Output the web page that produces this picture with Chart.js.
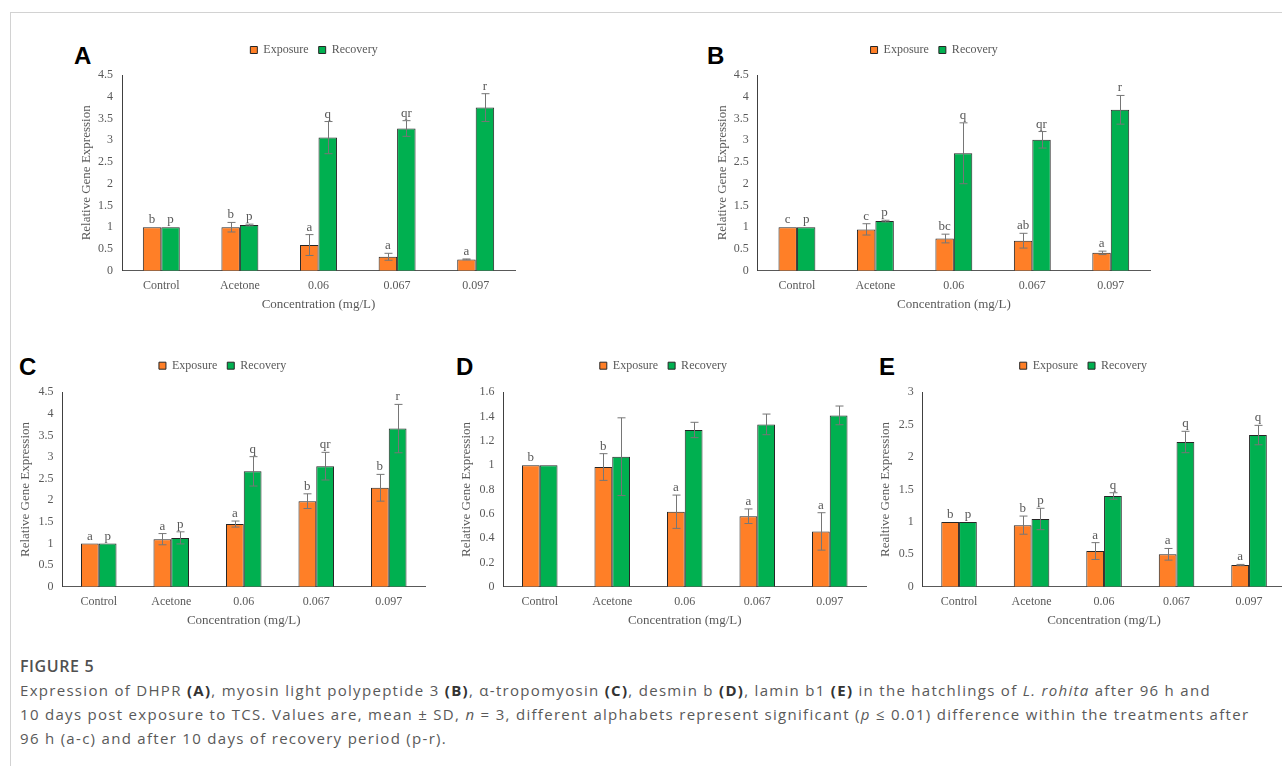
<!doctype html>
<html lang="en">
<head>
<meta charset="utf-8">
<title>Figure 5</title>
<script src="https://cdn.jsdelivr.net/npm/chart.js@4.4.1/dist/chart.umd.min.js"></script>
<style>
  html, body { margin: 0; padding: 0; width: 1282px; height: 766px; overflow: hidden; background: #fff; }
  #frame { position: absolute; left: 10px; top: 12px; width: 1280px; height: 760px;
           border-top: 1px solid #d2d2d2; border-left: 1px solid #d2d2d2; }
  canvas { position: absolute; }
  .tag { position: absolute; font: bold 24px 'Liberation Sans', Arial, sans-serif; line-height: 24px; color: #000; }
  #caption { position: absolute; left: 20px; top: 654px; font: 15px 'Open Sans', sans-serif;
             line-height: 24px; color: #595959; white-space: nowrap; letter-spacing: 1.3px; }
  #caption .head { font-size: 16px; font-weight: 600; color: #505050; letter-spacing: 0.6px; }
  #caption b { color: #333; }
</style>
</head>
<body>
<div id="frame"></div>

<div class="tag" style="left:74px;top:44px">A</div>
<div class="tag" style="left:707px;top:44px">B</div>
<div class="tag" style="left:19px;top:355px">C</div>
<div class="tag" style="left:456px;top:355px">D</div>
<div class="tag" style="left:879px;top:355px">E</div>

<canvas id="chartA" width="520" height="300" style="left:60px;top:30px"></canvas>
<canvas id="chartB" width="480" height="300" style="left:700px;top:30px"></canvas>
<canvas id="chartC" width="430" height="300" style="left:12px;top:345px"></canvas>
<canvas id="chartD" width="430" height="300" style="left:450px;top:345px"></canvas>
<canvas id="chartE" width="430" height="300" style="left:870px;top:345px"></canvas>

<div id="caption">
  <div class="head">FIGURE 5</div>
  <div>Expression of DHPR <b>(A)</b>, myosin light polypeptide 3 <b>(B)</b>, α-tropomyosin <b>(C)</b>, desmin b <b>(D)</b>, lamin b1 <b>(E)</b> in the hatchlings of <i>L. rohita</i> after 96 h and</div>
  <div>10 days post exposure to TCS. Values are, mean ± SD, <i>n</i> = 3, different alphabets represent significant (<i>p</i> ≤ 0.01) difference within the treatments after</div>
  <div>96 h (a-c) and after 10 days of recovery period (p-r).</div>
</div>

<script>
const categories = ['Control', 'Acetone', '0.06', '0.067', '0.097'];
const seriesNames = ['Exposure', 'Recovery'];
const xTitle = 'Concentration (mg/L)';

// A - DHPR
const exposureA = [1, 1.0, 0.59, 0.32, 0.26];
const exposureSdA = [0, 0.11, 0.24, 0.08, 0.01];
const recoveryA = [1, 1.05, 3.06, 3.27, 3.75];
const recoverySdA = [0, 0.02, 0.37, 0.18, 0.32];
const exposureLettersA = ['b', 'b', 'a', 'a', 'a'];
const recoveryLettersA = ['p', 'p', 'q', 'qr', 'r'];

// B - myosin light polypeptide 3
const exposureB = [1, 0.95, 0.74, 0.69, 0.41];
const exposureSdB = [0, 0.13, 0.1, 0.17, 0.04];
const recoveryB = [1, 1.14, 2.70, 3.01, 3.70];
const recoverySdB = [0, 0.02, 0.70, 0.19, 0.33];
const exposureLettersB = ['c', 'c', 'bc', 'ab', 'a'];
const recoveryLettersB = ['p', 'p', 'q', 'qr', 'r'];

// C - alpha-tropomyosin
const exposureC = [1, 1.10, 1.45, 1.98, 2.29];
const exposureSdC = [0, 0.13, 0.07, 0.17, 0.31];
const recoveryC = [1, 1.13, 2.67, 2.79, 3.66];
const recoverySdC = [0, 0.14, 0.34, 0.32, 0.56];
const exposureLettersC = ['a', 'a', 'a', 'b', 'b'];
const recoveryLettersC = ['p', 'p', 'q', 'qr', 'r'];

// D - desmin b
const exposureD = [1, 0.985, 0.617, 0.58, 0.455];
const exposureSdD = [0, 0.11, 0.137, 0.06, 0.154];
const recoveryD = [1, 1.07, 1.29, 1.336, 1.41];
const recoverySdD = [0, 0.32, 0.063, 0.085, 0.077];
const exposureLettersD = ['b', 'b', 'a', 'a', 'a'];
const recoveryLettersD = ['', '', '', '', ''];

// E - lamin b1
const exposureE = [1, 0.95, 0.55, 0.50, 0.334];
const exposureSdE = [0, 0.14, 0.13, 0.09, 0.01];
const recoveryE = [1, 1.045, 1.40, 2.233, 2.34];
const recoverySdE = [0, 0.165, 0.05, 0.165, 0.15];
const exposureLettersE = ['b', 'b', 'a', 'a', 'a'];
const recoveryLettersE = ['p', 'p', 'q', 'q', 'q'];

const yTicksHalf = ['0', '0.5', '1', '1.5', '2', '2.5', '3', '3.5', '4', '4.5'];
const yTicksD = ['0', '0.2', '0.4', '0.6', '0.8', '1', '1.2', '1.4', '1.6'];
const yTicksE = ['0', '0.5', '1', '1.5', '2', '2.5', '3'];

const SERIF = "'Liberation Serif', 'Times New Roman', serif";
const GREY = '#595959';

// draws +/- SD whiskers and the significance letters above each bar
const errorBars = {
  id: 'errorBars',
  afterDatasetsDraw(chart) {
    const { ctx } = chart;
    const y = chart.scales.y;
    ctx.save();
    chart.data.datasets.forEach((ds, di) => {
      chart.getDatasetMeta(di).data.forEach((bar, i) => {
        const v = ds.data[i], sd = ds.sd[i];
        let top = bar.y;
        if (sd > 0) {
          const hi = y.getPixelForValue(v + sd), lo = y.getPixelForValue(v - sd);
          const x = Math.round(bar.x) + 0.5;
          ctx.strokeStyle = '#767676';
          ctx.lineWidth = 1;
          ctx.beginPath();
          ctx.moveTo(x, hi); ctx.lineTo(x, lo);
          ctx.moveTo(x - 4, hi); ctx.lineTo(x + 4, hi);
          ctx.moveTo(x - 4, lo); ctx.lineTo(x + 4, lo);
          ctx.stroke();
          top = hi;
        }
        const letter = ds.letters[i];
        if (letter) {
          ctx.fillStyle = GREY;
          ctx.font = '13px ' + SERIF;
          ctx.textAlign = 'center';
          ctx.textBaseline = 'alphabetic';
          ctx.fillText(letter, bar.x, top - 4);
        }
      });
    });
    ctx.restore();
  }
};

function panel(id, d, g) {
  new Chart(document.getElementById(id), {
    type: 'bar',
    data: {
      labels: categories,
      datasets: [
        { label: seriesNames[0], data: d.exp, sd: d.expSd, letters: d.expL,
          backgroundColor: '#FF7F27', borderColor: '#262626', borderWidth: 1 },
        { label: seriesNames[1], data: d.rec, sd: d.recSd, letters: d.recL,
          backgroundColor: '#00B050', borderColor: '#262626', borderWidth: 1 }
      ]
    },
    options: {
      responsive: false,
      animation: false,
      devicePixelRatio: 1,
      layout: { padding: { left: g.pl, right: g.pr, top: g.pt, bottom: g.pb } },
      datasets: { bar: { barPercentage: 1, categoryPercentage: g.cat } },
      plugins: {
        tooltip: { enabled: false },
        legend: {
          position: 'top',
          labels: { boxWidth: 7, boxHeight: 7, padding: 10, color: GREY, font: { family: SERIF, size: 12 } }
        },
        // empty spacer between legend and plot
        title: { display: true, text: '', position: 'top', weight: 500, padding: 0,
                 font: { size: g.gap, lineHeight: 1 } }
      },
      scales: {
        x: {
          grid: { display: false, drawTicks: false },
          border: { color: GREY, width: 1 },
          ticks: { color: GREY, padding: 8, font: { family: SERIF, size: 12 } },
          title: { display: true, text: xTitle, color: GREY, padding: { top: 0, bottom: 3 },
                   font: { family: SERIF, size: 13 } },
          afterFit: s => { s.height = 45; }
        },
        y: {
          min: 0, max: d.max,
          grid: { display: false, drawTicks: false },
          border: { color: '#404040', width: 1 },
          ticks: { stepSize: d.step, color: GREY, padding: 9, font: { family: SERIF, size: 12 },
                   callback: (v, i) => d.ticks[i] },
          title: { display: true, text: d.yTitle, color: GREY, padding: { top: g.tp, bottom: 0 },
                   font: { family: SERIF, size: 13 } },
          afterFit: s => { s.width = 45; }
        },
        side: {
          position: 'right',
          grid: { display: false, drawTicks: false },
          border: { display: false },
          ticks: { display: false },
          afterFit: s => { s.width = g.rw; }
        }
      }
    },
    plugins: [errorBars]
  });
}

panel('chartA',
  { exp: exposureA, expSd: exposureSdA, expL: exposureLettersA, rec: recoveryA, recSd: recoverySdA, recL: recoveryLettersA,
    max: 4.5, step: 0.5, ticks: yTicksHalf, yTitle: 'Relative Gene Expression' },
  { pl: 17, pr: 29, pt: 4, pb: 14.3, rw: 36, gap: 9, cat: 0.47, tp: 2 });
panel('chartB',
  { exp: exposureB, expSd: exposureSdB, expL: exposureLettersB, rec: recoveryB, recSd: recoverySdB, recL: recoveryLettersB,
    max: 4.5, step: 0.5, ticks: yTicksHalf, yTitle: 'Relative Gene Expression' },
  { pl: 12.7, pr: 24.3, pt: 4, pb: 14.3, rw: 5.7, gap: 9, cat: 0.47, tp: 2 });
panel('chartC',
  { exp: exposureC, expSd: exposureSdC, expL: exposureLettersC, rec: recoveryC, recSd: recoverySdC, recL: recoveryLettersC,
    max: 4.5, step: 0.5, ticks: yTicksHalf, yTitle: 'Relative Gene Expression' },
  { pl: 5.5, pr: 14.3, pt: 4.7, pb: 13.3, rw: 2.7, gap: 10.6, cat: 0.49, tp: 0 });
panel('chartD',
  { exp: exposureD, expSd: exposureSdD, expL: exposureLettersD, rec: recoveryD, recSd: recoverySdD, recL: recoveryLettersD,
    max: 1.6, step: 0.2, ticks: yTicksD, yTitle: 'Relative Gene Expression' },
  { pl: 8.5, pr: 11.6, pt: 4.7, pb: 13.3, rw: 2.4, gap: 10.6, cat: 0.49, tp: 0 });
panel('chartE',
  { exp: exposureE, expSd: exposureSdE, expL: exposureLettersE, rec: recoveryE, recSd: recoverySdE, recL: recoveryLettersE,
    max: 3, step: 0.5, ticks: yTicksE, yTitle: 'Realtive Gene Expression' },
  { pl: 7.8, pr: 11.1, pt: 4.7, pb: 13.3, rw: 3.6, gap: 10.6, cat: 0.49, tp: 0 });
</script>
</body>
</html>
